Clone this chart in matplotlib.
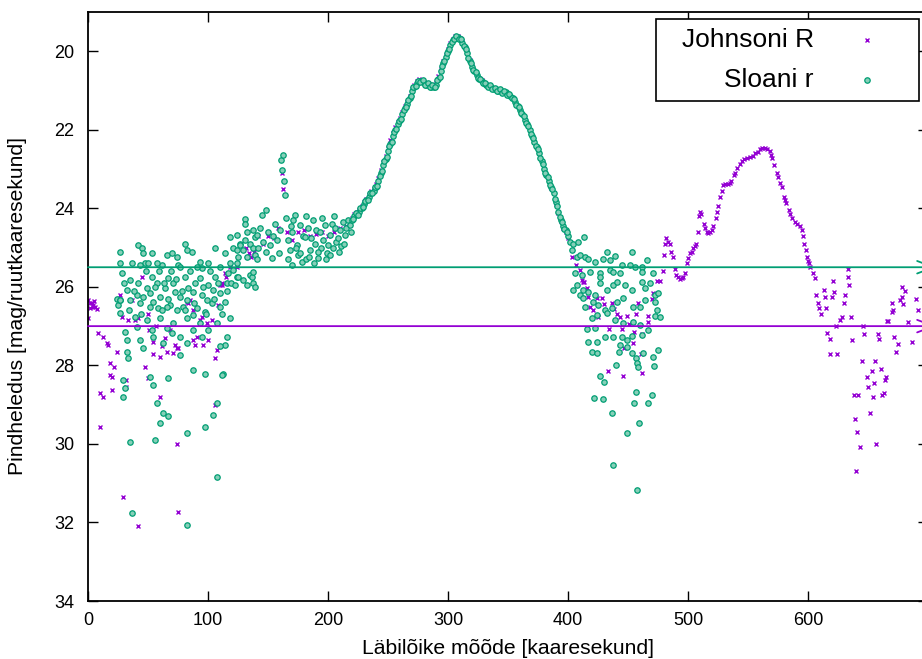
import numpy as np
import matplotlib.pyplot as plt
from matplotlib.patches import Rectangle

# --- data ----------------------------------------------------------------
# Johnson R, noisy outer part (0..220 arcsec)
johnson_left_x = [0, 0, 1.7, 3, 4, 6, 7.5, 4, 2, 5, 8, 12.5, 15.5, 17, 24, 18, 22, 18, 20,
                  10, 12.5, 20, 10, 26.7, 28, 32, 32, 29, 42, 33, 39, 42, 36.7, 45, 50, 51,
                  57, 47.5, 50, 54, 54, 60, 60, 61.5, 64, 68, 72.5, 74, 75, 71, 66, 74, 75,
                  82.5, 85, 83.5, 87.5, 87.5, 89, 91, 93, 95, 99, 103, 106, 107.5, 106, 108,
                  111.5, 114, 96, 100, 110, 112, 115, 118, 124, 132, 134, 136, 138, 142, 146,
                  150, 155, 158, 161.5, 162.5, 166, 170, 175, 180, 185, 190, 195, 200, 205,
                  210, 215, 218]
johnson_left_y = [26.8, 26.34, 26.4, 26.4, 26.46, 26.5, 26.56, 26.5, 26.55, 26.35, 27.17,
                  27.28, 27.43, 27.48, 27.66, 27.94, 28.04, 28.25, 28.3, 28.7, 28.8, 28.63,
                  29.57, 26.2, 26.77, 28.37, 28.55, 31.35, 32.1, 26.85, 26.85, 26.8, 26.34,
                  25.75, 26.7, 27.1, 27.0, 28.04, 28.33, 27.4, 27.7, 27.78, 28.8, 27.5, 27.3,
                  27.1, 27.48, 27.56, 27.56, 27.68, 27.66, 30.0, 31.73, 26.38, 26.34, 26.42,
                  26.6, 27.36, 27.48, 27.27, 26.85, 26.77, 26.93, 26.85, 27.8, 27.6, 29.0,
                  26.46, 25.95, 25.65, 27.48, 27.36, 25.95, 25.9, 25.75, 25.5, 25.5, 25.0,
                  25.15, 25.25, 25.1, 24.7, 24.9, 24.7, 24.75, 24.5, 23.1, 23.5, 24.6, 24.8,
                  24.6, 24.55, 24.7, 24.65, 24.6, 24.7, 24.6, 24.5, 24.45, 24.35]

# bright central part, sampled every 2 arcsec (220..400)
profile_x = list(range(220, 402, 2))
johnson_peak_y = [24.25, 24.15, 24.1, 24.05, 23.95, 23.85, 23.75, 23.65, 23.55, 23.5,
                  23.38, 23.22, 23.02, 22.82, 22.66, 22.46, 22.27, 22.08, 21.93, 21.8,
                  21.69, 21.54, 21.4, 21.29, 21.14, 20.96, 20.85, 20.76, 20.71, 20.72,
                  20.77, 20.82, 20.83, 20.87, 20.86, 20.8, 20.64, 20.44, 20.25, 20.1,
                  19.95, 19.8, 19.68, 19.61, 19.6, 19.65, 19.75, 19.88, 20.03, 20.22,
                  20.38, 20.49, 20.59, 20.69, 20.74, 20.8, 20.84, 20.87, 20.91, 20.94,
                  20.95, 20.99, 21.0, 21.04, 21.05, 21.09, 21.14, 21.2, 21.29, 21.4,
                  21.5, 21.6, 21.74, 21.85, 22.0, 22.15, 22.3, 22.45, 22.6, 22.8,
                  23.0, 23.15, 23.3, 23.47, 23.62, 23.88, 24.12, 24.33, 24.5, 24.6, 24.75]
sloan_peak_y = [24.3, 24.2, 24.15, 24.1, 24.0, 23.9, 23.8, 23.7, 23.6, 23.55,
                23.45, 23.3, 23.1, 22.9, 22.75, 22.55, 22.35, 22.15, 22.0, 21.85,
                21.75, 21.6, 21.45, 21.35, 21.2, 21.0, 20.9, 20.8, 20.75, 20.75,
                20.8, 20.85, 20.85, 20.9, 20.9, 20.85, 20.7, 20.5, 20.3, 20.15,
                20.0, 19.85, 19.72, 19.65, 19.63, 19.68, 19.78, 19.9, 20.05, 20.25,
                20.4, 20.5, 20.6, 20.7, 20.75, 20.8, 20.85, 20.88, 20.92, 20.95,
                20.95, 21.0, 21.0, 21.05, 21.05, 21.1, 21.15, 21.2, 21.3, 21.4,
                21.5, 21.6, 21.75, 21.85, 22.0, 22.15, 22.3, 22.45, 22.6, 22.8,
                23.0, 23.15, 23.3, 23.45, 23.6, 23.85, 24.1, 24.3, 24.45, 24.55, 24.7]
# the in-between samples of the Sloan profile (221..399)
profile_odd_x = list(range(221, 400, 2))
sloan_peak_odd_y = [24.28, 24.12, 24.18, 23.98, 23.97, 23.82, 23.78, 23.62, 23.6, 23.45,
                    23.42, 23.17, 23.05, 22.8, 22.7, 22.42, 22.3, 22.05, 21.98, 21.78,
                    21.72, 21.5, 21.43, 21.25, 21.15, 20.92, 20.88, 20.76, 20.78, 20.74,
                    20.86, 20.82, 20.9, 20.86, 20.92, 20.74, 20.65, 20.38, 20.25, 20.05,
                    19.95, 19.76, 19.7, 19.62, 19.68, 19.7, 19.86, 19.95, 20.18, 20.3,
                    20.48, 20.53, 20.68, 20.7, 20.8, 20.8, 20.9, 20.87, 20.97, 20.93,
                    21.02, 20.97, 21.07, 21.02, 21.12, 21.1, 21.2, 21.22, 21.38, 21.42,
                    21.58, 21.65, 21.83, 21.9, 22.1, 22.2, 22.4, 22.5, 22.72, 22.88,
                    23.1, 23.2, 23.4, 23.5, 23.75, 23.95, 24.22, 24.35, 24.52, 24.6]

# Johnson R, east side (400..695)
johnson_right_x = [403, 407, 410, 412, 413, 416, 417, 418, 421, 425, 428, 430, 434, 437,
                   438, 441, 443, 445, 447, 449, 451, 454, 455, 457, 458, 461, 462, 467,
                   467, 470, 471, 424, 433, 446, 462, 412.5,
                   474, 477, 479, 480, 481, 482, 483, 485, 486, 487.5, 489, 490, 491.7,
                   493, 495, 496, 497.5, 499, 500, 501.7, 503, 504, 505.5, 507, 508, 509,
                   510, 511, 513, 514, 516, 517, 518, 520, 521, 523, 524, 525, 527, 528,
                   529, 531, 533, 535, 536, 538, 539, 541, 543, 545, 547, 549, 552, 554,
                   556, 558, 560, 562, 564, 566, 568, 569, 570, 572, 574, 575, 577, 578,
                   580, 581, 582, 584, 585, 587, 589, 591, 593, 595, 596, 597, 598, 599,
                   600, 601, 602, 604, 606,
                   607, 608, 609, 611, 613, 614, 615, 616, 618, 618, 624, 620, 621, 622,
                   627, 628, 623, 631, 630, 633, 633, 634, 636, 637, 639, 641, 643, 640,
                   638, 642, 645, 646, 647, 649, 650, 652, 653, 654, 655, 656, 657, 658,
                   659, 661, 662, 663, 664, 665, 666, 667, 670, 671, 672, 673, 675, 670,
                   677, 678, 679, 678, 681, 683, 687, 690, 692]
johnson_right_y = [25.24, 25.45, 25.57, 25.83, 25.88, 26.03, 26.26, 26.5, 26.6, 26.77,
                   26.28, 26.44, 27.07, 26.4, 26.57, 26.7, 26.77, 27.07, 27.55, 26.74,
                   26.95, 27.43, 27.15, 26.7, 26.4, 27.7, 27.2, 26.74, 26.9, 26.3, 26.16,
                   26.28, 28.15, 28.27, 28.2, 25.88,
                   25.85, 25.85, 25.6, 25.2, 24.9, 24.76, 24.85, 24.9, 25.1, 25.25, 25.55,
                   25.7, 25.75, 25.8, 25.78, 25.75, 25.65, 25.4, 25.27, 25.15, 25.1, 25.0,
                   24.95, 24.9, 24.6, 24.2, 24.1, 24.15, 24.4, 24.5, 24.6, 24.62, 24.6,
                   24.55, 24.45, 24.25, 24.1, 23.95, 23.7, 23.55, 23.4, 23.38, 23.37,
                   23.36, 23.3, 23.15, 23.1, 22.98, 22.88, 22.8, 22.75, 22.72, 22.7, 22.66,
                   22.6, 22.57, 22.5, 22.47, 22.47, 22.5, 22.55, 22.65, 22.72, 22.9, 23.1,
                   23.2, 23.35, 23.46, 23.7, 23.8, 23.87, 24.05, 24.15, 24.25, 24.35, 24.4,
                   24.45, 24.56, 24.7, 24.9, 25.05, 25.25, 25.35, 25.4, 25.5, 25.65, 25.78,
                   26.2, 26.4, 26.55, 26.7, 26.08, 26.26, 26.54, 27.17, 27.33, 27.7, 27.7,
                   26.26, 25.85, 26.13, 26.85, 26.77, 27.0, 26.2, 26.4, 25.75, 25.55, 25.95,
                   26.77, 27.36, 29.36, 29.7, 30.07, 30.68, 28.75, 28.75, 27.9, 27.0, 27.2,
                   28.3, 28.55, 29.2, 28.15, 28.8, 28.45, 27.9, 30.0, 27.2, 27.33, 28.1,
                   28.75, 28.7, 28.37, 28.3, 26.87, 26.87, 26.64, 26.6, 27.28, 27.66, 27.45,
                   26.4, 26.34, 26.26, 26.44, 26.0, 26.1, 26.9, 27.4, 26.3, 26.6]

# Sloan r, west side (24..220)
sloan_left_x = [24, 25, 26.7, 26.7, 28, 26.7, 26.7, 30.8, 32.5, 32.5, 33.3, 29.2, 30.8,
                29.2, 35, 36.7, 41.7, 45, 46, 47.5, 53, 65.8, 70, 74, 80.8, 82.5, 86.7,
                93.3, 105.8, 110, 114, 118, 75, 61.7, 57.5, 50, 43.3, 100, 95, 118,
                35, 41.7, 40.8, 43.3, 49, 53.3, 57.5, 60, 64, 66.7, 68.3, 72.5, 74, 76.7,
                80.8, 82.5, 83.5, 87.5, 90.8, 93.3, 95, 99, 100, 105.8, 110, 110, 115.8,
                117, 32.5, 35, 54, 58.3, 65.8, 79, 97.5, 103.3, 114, 26.7, 46, 51.7, 71,
                89, 76.7, 104, 39, 40.8, 43.3, 45.8, 49, 60, 65.8, 70, 76.7, 76.7, 87.5,
                93.3, 100, 107.5, 115.8, 118.3, 54.2, 62.5, 82.5, 95, 71, 53.3, 87.5, 82.5,
                30, 34, 37, 38, 44, 48, 52, 56, 59, 62, 63, 67, 69, 73, 78, 81, 85, 88,
                91, 96, 98, 102, 105, 108, 112, 116, 119,
                51.7, 54.2, 57.5, 60, 55.8, 66.7, 62.5, 66.7, 82.5, 82.5, 87.5, 97.5, 97.5,
                104.2, 107.5, 107.5, 112.5, 114, 112, 110,
                121, 121, 122.5, 124, 124, 124, 124, 125, 125, 126.7, 126.7, 129, 129,
                130.8, 131, 131, 132.5, 132.5, 132.5, 135, 135, 136.7, 137.5, 137.5,
                137.5, 137.5, 139, 139, 139, 140.8, 140.8, 141.7, 143, 145, 146, 148, 148,
                150, 151.7, 153, 154, 156, 157.5, 159, 160, 161, 161.7, 162.5, 163, 164,
                165, 166.7, 168, 169, 170, 170, 172.5, 174, 175, 176.7, 178, 179, 181,
                181.7, 183, 185, 186, 187.5, 189, 190, 191.7, 193, 194, 196, 197.5, 199,
                200, 201.7, 203, 204, 206, 207, 208, 210, 211, 212.5, 214, 215, 216.7,
                218, 219, 167, 173, 177, 184, 188, 192, 198, 202, 209, 213, 171, 182,
                195, 205]
sloan_left_y = [26.3, 26.46, 25.1, 25.4, 25.65, 26.67, 26.34, 27.15, 27.36, 27.66, 27.8,
                28.37, 28.58, 28.8, 29.95, 31.76, 24.94, 25.0, 25.14, 25.4, 25.14, 25.2,
                25.14, 25.24, 24.9, 25.06, 25.1, 25.37, 25.0, 25.5, 25.14, 24.73, 25.45,
                25.45, 25.4, 25.4, 25.45, 25.4, 25.52, 25.4,
                25.83, 25.9, 26.2, 26.4, 26.03, 25.75, 25.9, 26.25, 26.03, 25.78, 26.46,
                26.13, 26.6, 25.5, 25.75, 26.34, 26.03, 26.13, 26.54, 25.78, 26.2, 26.34,
                25.95, 25.75, 26.5, 26.16, 25.9, 25.65, 26.08, 26.34, 26.38, 26.54, 26.5,
                26.5, 26.64, 26.42, 26.38, 26.34, 26.25, 26.16, 25.9, 25.9, 26.25, 26.08,
                26.77, 27.03, 27.36, 27.56, 26.85, 26.8, 27.05, 27.17, 27.27, 27.73, 27.1,
                26.93, 27.1, 26.93, 27.27, 26.8, 27.27, 27.43, 27.43, 27.27, 26.93, 27.1,
                26.72, 26.8,
                25.9, 26.6, 25.4, 26.1, 26.7, 25.6, 26.5, 26.0, 25.6, 26.6, 25.9, 26.3,
                25.6, 25.8, 26.1, 26.6, 25.6, 26.4, 25.5, 26.0, 26.7, 25.6, 26.3, 25.9,
                26.7, 26.1, 25.9,
                28.3, 28.5, 28.96, 29.47, 29.9, 28.33, 29.2, 29.3, 29.72, 32.06, 28.12,
                28.22, 29.57, 29.26, 28.96, 30.84, 28.22, 27.48, 28.25, 27.5,
                25.0, 25.57, 25.95, 24.68, 25.06, 25.4, 25.75, 25.24, 25.75, 24.9, 24.94,
                25.06, 25.83, 24.8, 24.28, 24.4, 24.6, 25.24, 25.95, 24.9, 25.7, 25.75,
                24.55, 25.0, 25.62, 25.9, 25.2, 24.73, 26.0, 24.68, 25.3, 25.0, 24.5,
                24.17, 24.85, 24.05, 25.1, 24.6, 24.94, 25.27, 24.7, 24.4, 24.8, 25.15,
                24.55, 22.77, 23.03, 22.65, 23.3, 23.66, 24.25, 24.8, 25.06, 24.45, 24.6,
                25.45, 24.17, 24.94, 25.2, 24.43, 25.37, 24.7, 24.73, 25.3, 24.5, 25.06,
                24.75, 24.3, 24.9, 24.55, 25.27, 24.6, 25.0, 24.8, 24.43, 25.15, 24.94,
                24.68, 24.4, 25.0, 24.5, 24.85, 24.76, 24.55, 24.95, 24.35, 24.68, 24.5,
                24.3, 24.43, 24.6, 25.3, 25.0, 25.15, 25.25, 25.4, 25.1, 25.3, 25.2, 25.1,
                24.9, 24.3, 24.2, 24.25, 24.2]

# Sloan r, east side (400..476)
sloan_right_x = [401.7, 404, 408, 413, 403, 407.5, 410, 414, 416.7, 422.5, 429, 432.5, 435,
                 439, 453, 466, 406, 411.7, 418, 426.7, 426.7, 435, 437.5, 443, 445,
                 451.7, 456, 461.5, 461.5, 471, 407.5, 404, 412.5, 416.7, 422.5, 426.7,
                 432.5, 437.5, 440.8, 447.5, 453, 461.5, 464, 468, 472.5, 475, 410, 412.5,
                 414, 421, 425, 431, 436.7, 440.8, 446, 454, 460, 464, 472.5, 474, 472.5,
                 476.7, 420, 424, 432.5, 439, 446, 454, 460, 416, 422.5, 431, 437.5, 445,
                 449, 453, 461.5, 466.7, 416.7, 424, 443, 449, 420, 424, 442.5, 453,
                 456.7, 462.5, 470.8, 475, 440, 457.5, 458.3, 471.7, 426.7, 430, 456.7,
                 470, 421.7, 429, 455, 466.7, 436.7, 459, 449, 437.5, 457.5]
sloan_right_y = [24.86, 24.9, 24.86, 24.73, 25.06, 25.24, 25.2, 25.24, 25.3, 25.37, 25.3,
                 25.1, 25.32, 25.22, 25.1, 25.32, 25.65, 25.7, 25.62, 25.65, 25.75, 25.57,
                 25.62, 25.65, 25.45, 25.45, 25.5, 25.5, 25.62, 25.65, 25.95, 26.08,
                 26.08, 26.13, 26.2, 25.9, 26.08, 25.95, 25.88, 25.95, 26.08, 25.88, 26.03,
                 25.9, 26.2, 26.16, 26.2, 26.28, 26.5, 26.38, 26.46, 26.6, 26.54, 26.38,
                 26.28, 26.5, 26.5, 26.34, 26.38, 26.6, 26.74, 26.77, 26.8, 26.72, 26.67,
                 26.85, 26.93, 26.9, 26.98, 27.07, 27.05, 27.27, 27.27, 27.27, 27.35,
                 27.25, 27.22, 27.1, 27.4, 27.4, 27.48, 27.53, 27.66, 27.68, 27.66, 27.68,
                 27.8, 27.68, 27.78, 27.6, 28.0, 27.94, 28.04, 28.02, 28.27, 28.42, 28.68,
                 28.75, 28.83, 28.85, 28.96, 28.96, 29.2, 29.47, 29.72, 30.54, 31.17]

# horizontal reference levels
level_sloan = 25.5
level_johnson = 27.0

x_ticks = [0, 100, 200, 300, 400, 500, 600]
y_ticks = [20, 22, 24, 26, 28, 30, 32, 34]

purple = '#9400d3'
green = '#009e73'

plt.rcParams['font.family'] = ['Liberation Sans', 'DejaVu Sans']

fig = plt.figure(figsize=(9.22, 6.59), dpi=100)
ax = fig.add_axes([88 / 922, 58 / 659, 840 / 922, 589 / 659])

jx = johnson_left_x + profile_x + johnson_right_x
jy = johnson_left_y + johnson_peak_y + johnson_right_y
sx = sloan_left_x + profile_x + profile_odd_x + sloan_right_x
sy = sloan_left_y + sloan_peak_y + sloan_peak_odd_y + sloan_right_y

ax.plot(jx, jy, 'x', color=purple, ms=3.2, mew=1.0, zorder=2)
ax.plot(sx, sy, 'o', mfc='#86cfb8', mec=green, ms=3.9, mew=0.9, zorder=3)

for lev, col in [(level_sloan, green), (level_johnson, purple)]:
    ax.annotate('', xy=(707, lev), xytext=(0, lev),
                arrowprops=dict(arrowstyle='->,head_length=1.2,head_width=0.45',
                                color=col, lw=1.3, shrinkA=0, shrinkB=0),
                zorder=4, annotation_clip=False)

ax.set_xlim(0, 700)
ax.set_ylim(34, 19.0)
ax.set_xticks(x_ticks)
ax.set_yticks(y_ticks)
ax.tick_params(direction='in', length=7, width=1, top=True, right=True, labelsize=13)
ax.tick_params(axis='x', pad=8)
ax.tick_params(axis='y', pad=10)
for sp in ax.spines.values():
    sp.set_linewidth(1.3)

# key box in the upper right
ax.add_patch(Rectangle((0.676, 0.8497), 0.313, 0.1383, transform=ax.transAxes,
                       facecolor='white', edgecolor='black', lw=1.2, zorder=5))
ax.text(0.864, 0.9525, 'Johnsoni R', transform=ax.transAxes, ha='right', va='center',
        fontsize=19, zorder=6)
ax.text(0.864, 0.8846, 'Sloani r', transform=ax.transAxes, ha='right', va='center',
        fontsize=19, zorder=6)
ax.plot([0.927], [0.9525], 'x', color=purple, ms=3.2, mew=1.0, transform=ax.transAxes,
        zorder=6, clip_on=False)
ax.plot([0.927], [0.8846], 'o', mfc='#86cfb8', mec=green, ms=3.9, mew=0.9,
        transform=ax.transAxes, zorder=6, clip_on=False)

fig.text(508 / 922, 1 - 648 / 659, 'Läbilõike mõõde [kaaresekund]', ha='center',
         va='center', fontsize=15.2)
fig.text(18 / 922, 1 - 306 / 659, 'Pindheledus [mag/ruutkaaresekund]', ha='center',
         va='center', rotation=90, fontsize=15.2)

fig.savefig('out.png', dpi=100)
